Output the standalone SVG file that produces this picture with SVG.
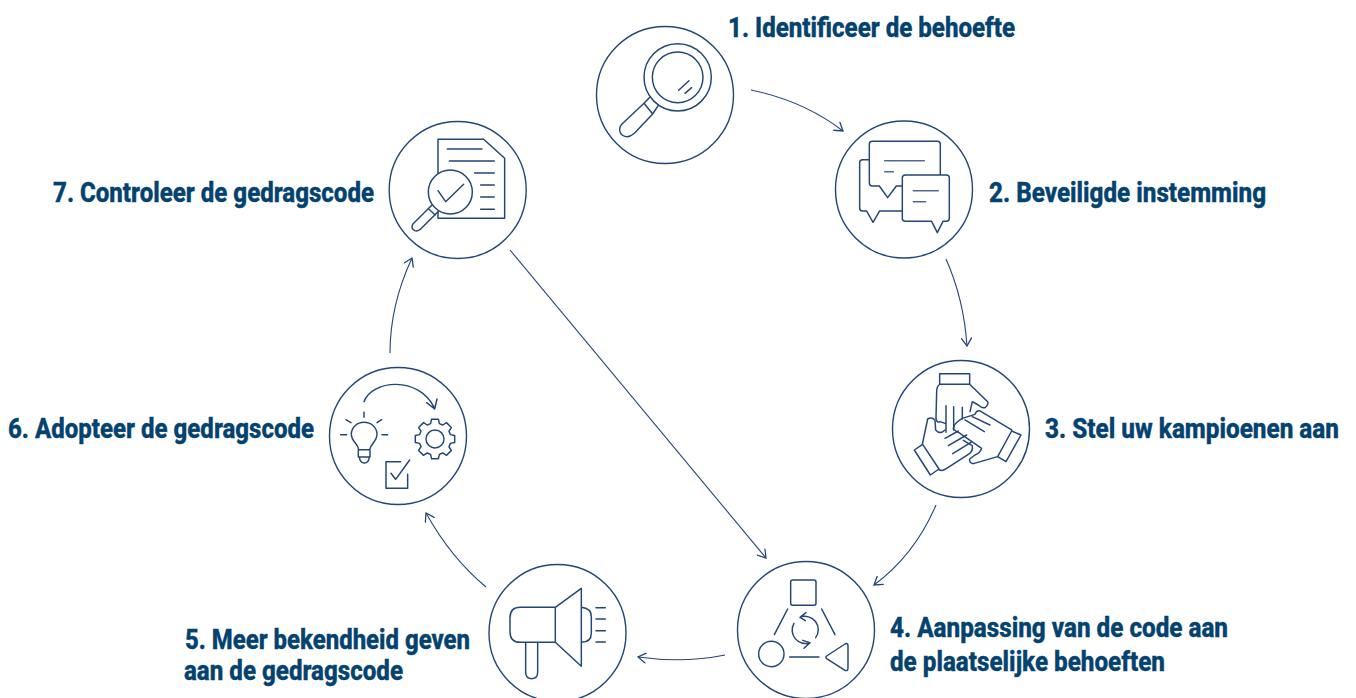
<svg xmlns="http://www.w3.org/2000/svg" width="1356" height="698" viewBox="0 0 1356 698">
<style>
.bg{fill:#fff}
.ring{fill:#fff;stroke:#234676;stroke-width:1.4}
.ic{fill:none;stroke:#234676;stroke-width:4.4;stroke-linecap:round;stroke-linejoin:round}
.icf{fill:#fff;stroke:#234676;stroke-width:4.4;stroke-linecap:round;stroke-linejoin:round}
.cn{fill:none;stroke:#234676;stroke-width:1.1;marker-end:url(#arr)}
.lb{font-family:"Roboto","Liberation Sans",sans-serif;font-weight:800;font-size:27px;fill:#04426f;stroke:#04426f;stroke-width:.35}
</style>
<defs>
<marker id="arr" markerUnits="userSpaceOnUse" markerWidth="11" markerHeight="11" refX="11" refY="6" viewBox="0 0 12 12" orient="auto">
<path d="M2.500 0.500L11 6L2.500 11.500" fill="none" stroke="#234676" stroke-width="1.400" stroke-linecap="round"/>
</marker>
</defs>
<rect class="bg" width="1356" height="698"/>
<g id="connectors">
<path class="cn" d="M751 90C785 97 817 111 843 131"/>
<path class="cn" d="M946 259C958 286 965 316 967 346"/>
<path class="cn" d="M936 505C922 538 901 565 874 585"/>
<path class="cn" d="M725 655C696 661 667 661 638 657"/>
<path class="cn" d="M486 587C462 567 442 542 426 513"/>
<path class="cn" d="M390 353C390 320 398 288 412 258"/>
<path class="cn" d="M510 250L766 558"/>
</g>
<g id="node1">
<circle class="ring" cx="665" cy="95" r="68.500"/>
<g transform="translate(590 20) scale(.3333)">
<circle class="ic" cx="263" cy="172" r="101"/>
<circle class="ic" cx="263" cy="172" r="76"/>
<path class="ic" d="M266 211L297 182M285 220L305 203M178 233L162 250L188 282L205 256M162 250L96 312C82 328 90 350 112 350C122 350 128 344 134 339L188 282"/>
</g>
<text class="lb" x="728" y="37" textLength="287" lengthAdjust="spacingAndGlyphs">1. Identificeer de behoefte</text>
</g>
<g id="node2">
<circle class="ring" cx="904" cy="189.500" r="68.500"/>
<g transform="translate(830 120) scale(.3333)">
<path class="ic" d="M118 119H98Q89 119 89 128V264Q89 273 98 273H110L129 307L149 273H217"/>
<path class="ic" d="M217 198H199L173 233L148 198H127Q118 198 118 189V73Q118 64 127 64H322Q331 64 331 73V165"/>
<path class="icf" d="M226 165H349Q358 165 358 174V295Q358 304 349 304H339L322 338L305 304H226Q217 304 217 295V174Q217 165 226 165Z"/>
<path class="ic" d="M164 122H283M164 155H190M250 212H325M250 245H287" stroke-opacity=".8"/>
</g>
<text class="lb" x="989" y="202" textLength="277" lengthAdjust="spacingAndGlyphs">2. Beveiligde instemming</text>
</g>
<g id="node3">
<circle class="ring" cx="961" cy="429" r="68.500"/>
<g transform="translate(885 355) scale(.3333)">
<path class="ic" d="M164 88V56H254V88M164 88H254M162 90Q155 95 155 110L153 190Q155 205 165 200L180 205M254 88L308 140Q312 148 300 158Q290 160 280 150L262 140L255 170M183 152V232M206 155V225M232 157V192"/>
<path class="ic" d="M112 268L128 192Q140 185 150 195L152 225Q165 240 180 225M88 285L136 360L162 342L113 268ZM162 344Q170 350 185 340L250 298Q265 290 262 272L235 256M180 250L220 228M190 272L245 240M203 296L258 262"/>
<path class="ic" d="M380 228L408 240L363 320L338 305M380 225L285 168Q275 165 270 178L232 190Q205 205 205 222Q215 232 225 235L290 280Q285 295 270 300L254 312Q252 325 265 326L338 305L380 228M240 195L298 230M262 185L315 210"/>
</g>
<text class="lb" transform="translate(1045 438) scale(.88 1)" x="0" y="0" textLength="334" lengthAdjust="spacingAndGlyphs">3. Stel uw kampioenen aan</text>
</g>
<g id="node4">
<circle class="ring" cx="806" cy="630" r="68.500"/>
<g transform="translate(730 555) scale(.3333)">
<rect class="ic" x="182" y="75" width="76" height="76" rx="6"/>
<circle class="ic" cx="124" cy="297" r="38"/>
<path class="ic" d="M345 267L290 303Q285 307 290 311L345 346Q354 349 354 340V272Q354 263 345 267Z"/>
<path class="ic" d="M173 162L133 239M275 162L315 239M179 306H267"/>
<path class="ic" d="M210 187A40 40 0 0 1 257 248M240 263A40 40 0 0 1 192 205M210 187L228 173M210 187L226 197M240 263L222 280M240 263L218 256"/>
</g>
<text class="lb" x="890" y="637" textLength="338" lengthAdjust="spacingAndGlyphs">4. Aanpassing van de code aan</text>
<text class="lb" x="890" y="671" textLength="275" lengthAdjust="spacingAndGlyphs">de plaatselijke behoeften</text>
</g>
<g id="node5">
<circle class="ring" cx="557.500" cy="633" r="68.500"/>
<g transform="translate(482 555) scale(.3333)">
<path class="ic" d="M220 157H115Q84 157 84 188V230Q84 262 115 262H220ZM220 157L298 100V334L220 262M298 157Q328 160 328 185V235Q328 262 298 262M131 262V352Q131 371 149 371Q167 371 167 352V262M342 158H370M342 192H370M342 227H370M342 261H370"/>
</g>
<text class="lb" x="185" y="649" textLength="285" lengthAdjust="spacingAndGlyphs">5. Meer bekendheid geven</text>
<text class="lb" x="184" y="680" textLength="219" lengthAdjust="spacingAndGlyphs">aan de gedragscode</text>
</g>
<g id="node6">
<circle class="ring" cx="398" cy="436" r="68.500"/>
<g transform="translate(322 355) scale(.3333)">
<path class="ic" d="M126 140C150 75 290 60 338 160M314 143L338 162L345 132"/>
<path class="ic" d="M126 172V187M72 194L87 203M179 194L165 203M56 239H74M180 239H197"/>
<path class="ic" d="M110 284C108 265 88 260 88 238C88 217 105 202 126 202C148 202 165 217 165 238C165 260 146 265 143 284ZM109 284H144V306H109ZM112 306C114 330 140 330 142 306"/>
<circle class="ic" cx="339" cy="252" r="27"/>
<path class="ic" d="M325.800 205.900L328.600 192.900H349.400L352.200 205.900L362.300 210L373.400 202.900L388.100 217.600L381 228.700L385.100 238.800L398.100 241.600V262.400L385.100 265.200L381 275.300L388.100 286.400L373.400 301.100L362.300 294L352.200 298.100L349.400 311.100H328.600L325.800 298.100L315.700 294L304.600 301.100L289.900 286.400L297 275.300L292.900 265.200L279.900 262.400V241.600L292.900 238.800L297 228.700L289.900 217.600L304.600 202.900L315.700 210Z"/>
<path class="ic" d="M236 320H192V400H257V358M207 355L221 373L263 315"/>
</g>
<text class="lb" x="8" y="438" textLength="306" lengthAdjust="spacingAndGlyphs">6. Adopteer de gedragscode</text>
</g>
<g id="node7">
<circle class="ring" cx="457.700" cy="190" r="68.500"/>
<g transform="translate(382 115) scale(.3333)">
<path class="ic" d="M168 175V73H305L368 130V310H168V290"/>
<path class="ic" d="M196 102H300M202 138H337M278 174H337M296 210H337M296 246H337M296 283H337"/>
<circle class="icf" cx="205" cy="231" r="66"/>
<path class="ic" d="M168 227L191 260L245 208M150 270L92 328Q86 340 98 347Q108 350 116 342L168 290M140 282L160 300"/>
</g>
<text class="lb" x="53" y="202" textLength="321" lengthAdjust="spacingAndGlyphs">7. Controleer de gedragscode</text>
</g>
</svg>
